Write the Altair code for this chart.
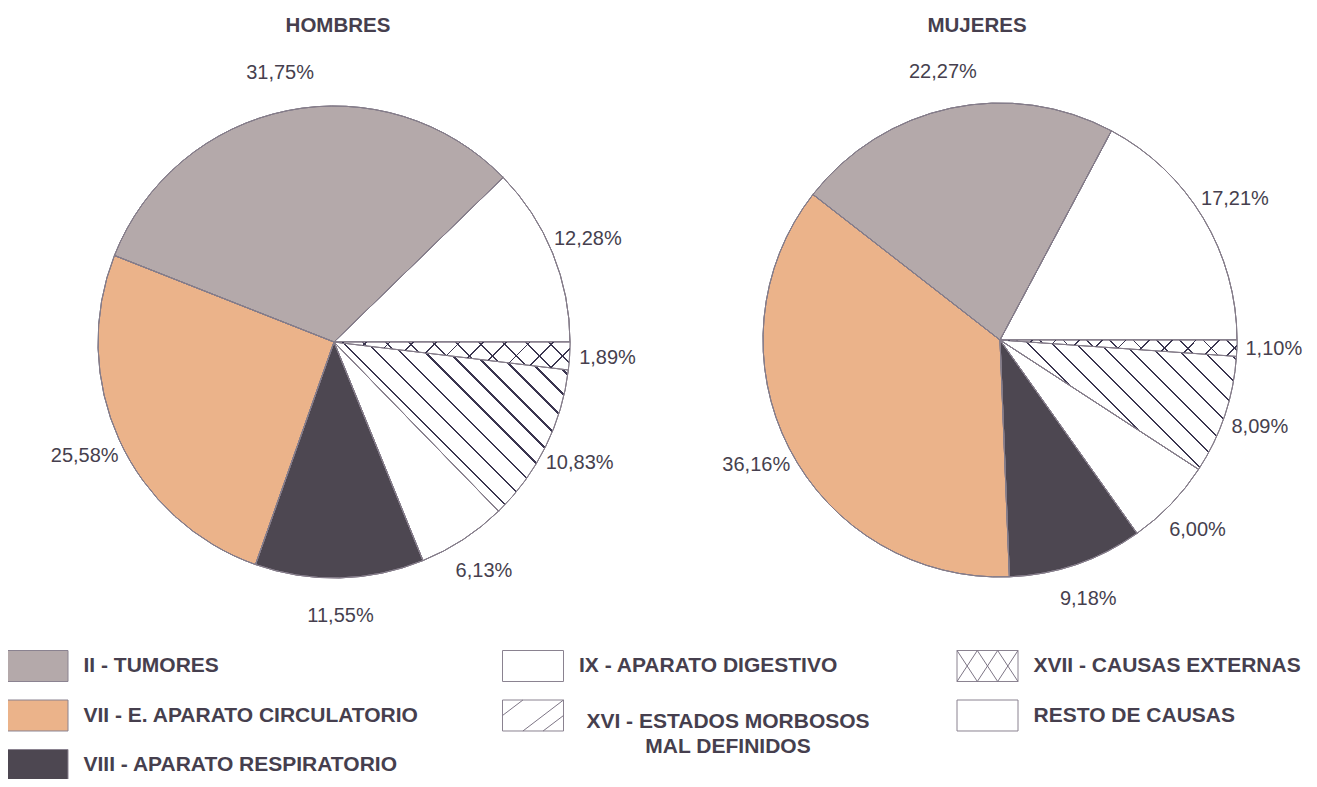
import math
import altair as alt
import pandas as pd

# ---------------- data ----------------
causas = ["XVII", "XVI", "IX", "VIII", "VII", "II", "RESTO"]
hombres = [1.89, 10.83, 6.13, 11.55, 25.58, 31.75, 12.28]
mujeres = [1.10, 8.09, 6.00, 9.18, 36.16, 22.27, 17.21]
colores = ["#ffffff", "#ffffff", "#ffffff", "#4d4751", "#ebb38a", "#b4a9aa", "#ffffff"]
sexos = ["HOMBRES", "MUJERES"]

leyenda_causa = ["II", "VII", "VIII", "IX", "XVI", "XVII", "RESTO"]
leyenda_texto = [
    "II - TUMORES",
    "VII - E. APARATO CIRCULATORIO",
    "VIII - APARATO RESPIRATORIO",
    "IX - APARATO DIGESTIVO",
    "XVI - ESTADOS MORBOSOS\nMAL DEFINIDOS",
    "XVII - CAUSAS EXTERNAS",
    "RESTO DE CAUSAS",
]
leyenda_col = [0, 0, 0, 1, 1, 2, 2]
leyenda_fila = [0, 1, 2, 0, 1, 0, 1]

# ---------------- styles ----------------
TXT = "#463f4e"
OUT = "#857d8a"
HATCH = "#3b3650"
FONT = "Liberation Sans"

rows = []
for sexo, vals in zip(sexos, [hombres, mujeres]):
    for i, (c, v) in enumerate(zip(causas, vals)):
        rows.append({"sexo": sexo, "causa": c, "valor": v, "orden": i,
                     "etiqueta": f"{v:.2f}".replace(".", ",") + "%"})
df = pd.DataFrame(rows)

ley = pd.DataFrame({"causa": leyenda_causa, "texto": leyenda_texto,
                    "col": leyenda_col, "fila": leyenda_fila})

fill_scale = alt.Scale(domain=causas, range=colores)


def arc_bbox(a0, a1, R):
    angs = [a0, a1] + [k * 90 for k in range(0, 9) if a0 < k * 90 < a1]
    xs = [0.0] + [R * math.cos(math.radians(a)) for a in angs]
    ys = [0.0] + [R * math.sin(math.radians(a)) for a in angs]
    return max(xs) - min(xs), max(ys) - min(ys)


def rayado(W, H, direction, spacing=16.0, lw=1.6, bg="#ffffff", phase=6.0):
    r = H / W
    gx, gy = (1.0, -r) if direction == "\\" else (1.0, r)
    s = (0.5 + 0.5 * r) / (1 + r * r)
    L = (W + H) / math.sqrt(2)
    stops = [{"offset": 0, "color": bg}]
    k = 0
    while True:
        a = (k * spacing + phase) / L
        if a >= 1:
            break
        b = min((k * spacing + phase + lw) / L, 1)
        stops += [{"offset": a, "color": bg}, {"offset": a, "color": HATCH},
                  {"offset": b, "color": HATCH}, {"offset": b, "color": bg}]
        k += 1
    stops.append({"offset": 1, "color": bg})
    return {"gradient": "linear",
            "x1": 0.5 - s * gx, "y1": 0.5 - s * gy,
            "x2": 0.5 + s * gx, "y2": 0.5 + s * gy,
            "stops": stops}


def pie_layers(sexo, vals, cx, cy, R, RL):
    base = alt.Chart(df).transform_filter(alt.datum.sexo == sexo)
    theta = alt.Theta("valor:Q", stack=True,
                      scale=alt.Scale(range=[math.pi / 2, math.pi / 2 + 2 * math.pi]))
    common = dict(theta=theta, order=alt.Order("orden:Q", sort="ascending"),
                  x=alt.value(cx), y=alt.value(cy))
    total = sum(vals)
    a_ext = vals[0] / total * 360
    a_xvi = (vals[0] + vals[1]) / total * 360
    W17, H17 = arc_bbox(0, a_ext, R)
    W16, H16 = arc_bbox(a_ext, a_xvi, R)

    pie = base.mark_arc(radius=R, stroke=OUT, strokeWidth=1).encode(
        fill=alt.Fill("causa:N", scale=fill_scale, legend=None), **common)
    h16 = base.mark_arc(radius=R, stroke=OUT, strokeWidth=1).encode(
        fill=alt.condition(alt.datum.causa == "XVI",
                           alt.value(rayado(W16, H16, "\\", spacing=17)),
                           alt.value("transparent")), **common)
    h17a = base.mark_arc(radius=R, stroke=OUT, strokeWidth=1).encode(
        fill=alt.condition(alt.datum.causa == "XVII",
                           alt.value(rayado(W17, H17, "\\", spacing=16.5, lw=1.3)),
                           alt.value("transparent")), **common)
    h17b = base.mark_arc(radius=R, strokeWidth=0).encode(
        fill=alt.condition(alt.datum.causa == "XVII",
                           alt.value(rayado(W17, H17, "/", spacing=16.5, lw=1.3,
                                            bg="rgba(255,255,255,0)")),
                           alt.value("transparent")), **common)
    labels = base.mark_text(radius=RL, font=FONT, fontSize=20, color=TXT).encode(
        text="etiqueta:N", **common)
    return [pie, h16, h17a, h17b, labels]


layers = []
layers += pie_layers("HOMBRES", hombres, 326, 334, 236, 274)
layers += pie_layers("MUJERES", mujeres, 992, 332, 237, 274)

# titles
tit = pd.DataFrame({"titulo": sexos})
for sexo, tx in zip(sexos, [330, 969]):
    layers.append(
        alt.Chart(tit).transform_filter(alt.datum.titulo == sexo)
        .mark_text(font=FONT, fontSize=20.5, fontWeight="bold", color=TXT)
        .encode(text="titulo:N", x=alt.value(tx), y=alt.value(17.5)))

# legend
lx = alt.X("col:Q", scale=alt.Scale(domain=[0, 1, 2], range=[29.5, 525, 979.5]), axis=None)
ly = alt.Y("fila:Q", scale=alt.Scale(domain=[0, 2], range=[658, 757]), axis=None)
RECT = "M-1,-0.508L1,-0.508L1,0.508L-1,0.508Z"
XVI_LINES = "M-1,0L-0.33,-0.508M-0.33,0.508L1,-0.508M0.33,0.508L1,0"
XVII_LINES = ("M-1,-0.508L-0.333,0.508M-0.333,-0.508L0.333,0.508M0.333,-0.508L1,0.508"
              "M-1,0.508L-0.333,-0.508M-0.333,0.508L0.333,-0.508M0.333,0.508L1,-0.508")
SW = 3721

lb = alt.Chart(ley)
layers.append(lb.mark_point(shape=RECT, filled=True, size=SW, stroke="#8a8290",
                            strokeWidth=1, opacity=1, fillOpacity=1)
              .encode(x=lx, y=ly, fill=alt.Fill("causa:N", scale=fill_scale, legend=None)))
layers.append(lb.transform_filter(alt.datum.causa == "XVI")
              .mark_point(shape=XVI_LINES, filled=False, size=SW, stroke="#7d7585",
                          strokeWidth=1, opacity=1)
              .encode(x=lx, y=ly))
layers.append(lb.transform_filter(alt.datum.causa == "XVII")
              .mark_point(shape=XVII_LINES, filled=False, size=SW, stroke="#7d7585",
                          strokeWidth=1, opacity=1)
              .encode(x=lx, y=ly))
layers.append(lb.transform_filter(alt.datum.causa != "XVI")
              .mark_text(align="left", baseline="middle", dx=46, font=FONT, fontSize=21,
                         fontWeight="bold", color=TXT)
              .encode(x=lx, y=ly, text="texto:N"))
layers.append(lb.transform_filter(alt.datum.causa == "XVI")
              .mark_text(align="center", baseline="top", dx=195, dy=-5, font=FONT, fontSize=21,
                         fontWeight="bold", color=TXT, lineBreak="\n", lineHeight=25)
              .encode(x=lx, y=ly, text="texto:N"))

chart = alt.layer(*layers).properties(
    width=1301, height=771, autosize="none", padding=0, background="white"
).configure_view(stroke=None)

chart.save("out.html", embed_options={"renderer": "svg", "actions": False})
